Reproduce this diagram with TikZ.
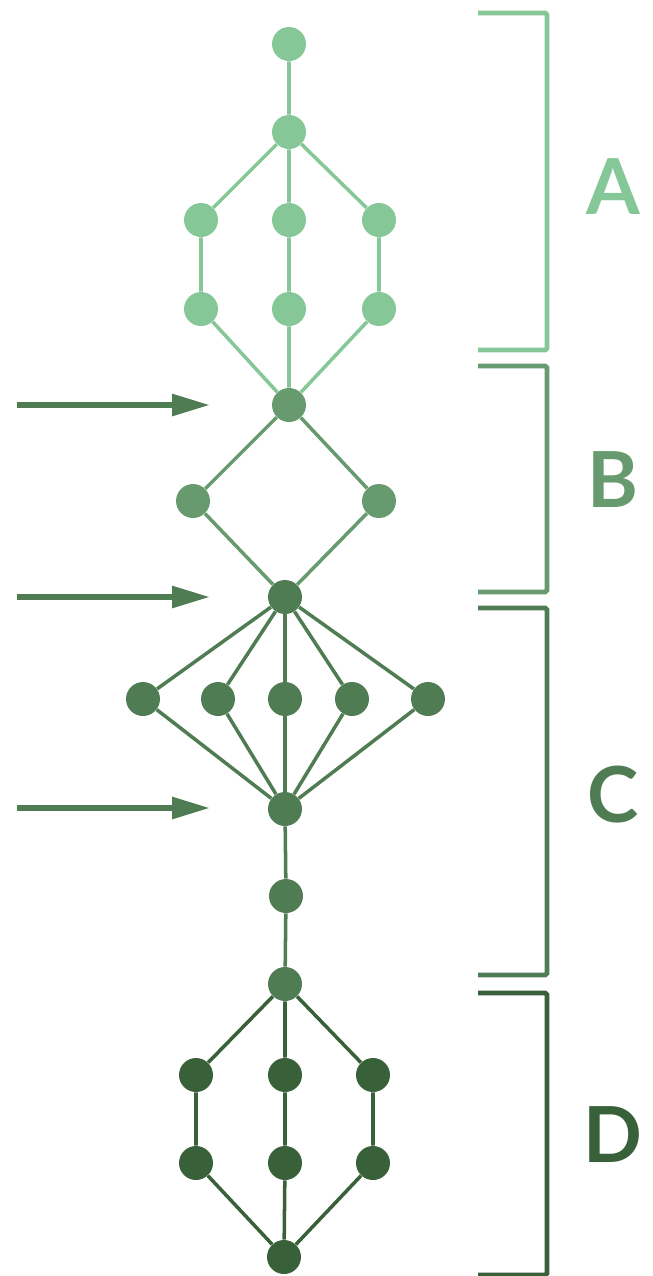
\documentclass[tikz,border=0pt]{standalone}
\usepackage{fontspec}
\setsansfont{Lato}
\usetikzlibrary{arrows.meta}
\definecolor{colA}{HTML}{86C797}
\definecolor{colB}{HTML}{679B6F}
\definecolor{colC}{HTML}{4F7C52}
\definecolor{colD}{HTML}{386039}
\tikzset{
  dot/.style={circle,fill=#1,draw=none,minimum size=0.68cm,inner sep=0pt},
  edge/.style={draw=#1,line width=2pt},
  brace/.style={draw=#1,line width=2.8pt,rounded corners=1pt},
  feed/.style={draw=colC,line width=3.4pt,-{Triangle[length=0.76cm,width=0.42cm]}},
  tag/.style={text=#1,font=\sffamily\bfseries\fontsize{44}{44}\selectfont}
}
\begin{document}
\begin{tikzpicture}[x=0.02cm,y=-0.02cm]
\useasboundingbox (0,0) rectangle (653,1276);
% part A
\node[dot=colA] (a1) at (289,44) {};
\node[dot=colA] (a2) at (289,132) {};
\node[dot=colA] (a3) at (201,220) {};
\node[dot=colA] (a4) at (289,220) {};
\node[dot=colA] (a5) at (379,220) {};
\node[dot=colA] (a6) at (201,309) {};
\node[dot=colA] (a7) at (289,309) {};
\node[dot=colA] (a8) at (379,309) {};
% part B
\node[dot=colB] (b1) at (289,405) {};
\node[dot=colB] (b2) at (193,501) {};
\node[dot=colB] (b3) at (379,501) {};
% part C
\node[dot=colC] (c1) at (285,597) {};
\node[dot=colC] (c2) at (143,699) {};
\node[dot=colC] (c3) at (218,699) {};
\node[dot=colC] (c4) at (285,699) {};
\node[dot=colC] (c5) at (352,699) {};
\node[dot=colC] (c6) at (428,699) {};
\node[dot=colC] (c7) at (285,809) {};
\node[dot=colC] (c8) at (286,896) {};
\node[dot=colC] (c9) at (285,984) {};
% part D
\node[dot=colD] (d1) at (196,1075) {};
\node[dot=colD] (d2) at (285,1075) {};
\node[dot=colD] (d3) at (373,1075) {};
\node[dot=colD] (d4) at (196,1163) {};
\node[dot=colD] (d5) at (285,1163) {};
\node[dot=colD] (d6) at (373,1163) {};
\node[dot=colD] (d7) at (284,1257) {};
% edges
\draw[edge=colA] (a1)--(a2) (a2)--(a3) (a2)--(a4) (a2)--(a5)
  (a3)--(a6) (a4)--(a7) (a5)--(a8) (a6)--(b1) (a7)--(b1) (a8)--(b1);
\draw[edge=colB] (b1)--(b2) (b1)--(b3) (b2)--(c1) (b3)--(c1);
\foreach \i in {2,...,6}
  \draw[edge=colC] (c1)--(c\i) (c\i)--(c7);
\draw[edge=colC] (c7)--(c8) (c8)--(c9);
\draw[edge=colD] (c9)--(d1) (c9)--(d2) (c9)--(d3)
  (d1)--(d4) (d2)--(d5) (d3)--(d6) (d4)--(d7) (d5)--(d7) (d6)--(d7);
% brackets
\coordinate (pa) at (478,13);
\coordinate (qa) at (478,350);
\coordinate (pb) at (478,366);
\coordinate (qb) at (478,592);
\coordinate (pc) at (478,608);
\coordinate (qc) at (478,975);
\coordinate (pd) at (478,993);
\coordinate (qd) at (478,1275);
\draw[brace=colA] (pa) -| (547,350) -- (qa);
\draw[brace=colB] (pb) -| (547,592) -- (qb);
\draw[brace=colC] (pc) -| (547,975) -- (qc);
\draw[brace=colD] (pd) -| (547,1275) -- (qd);
\node[tag=colA] (la) at (613,187) {A};
\node[tag=colB] (lb) at (613,480) {B};
\node[tag=colC] (lc) at (613,795) {C};
\node[tag=colD] (ld) at (613,1135) {D};
% inputs
\coordinate (s1) at (17,405);
\coordinate (t1) at (210,405);
\coordinate (s2) at (17,597);
\coordinate (t2) at (210,597);
\coordinate (s3) at (17,808);
\coordinate (t3) at (210,808);
\draw[feed] (s1)--(t1);
\draw[feed] (s2)--(t2);
\draw[feed] (s3)--(t3);
\end{tikzpicture}
\end{document}
